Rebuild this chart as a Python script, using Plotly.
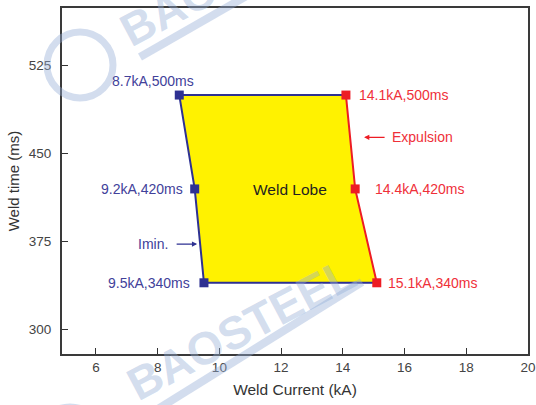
import numpy as np
import plotly.graph_objects as go

# Weld lobe boundary points (current in kA, weld time in ms)
imin_current = [8.7, 9.2, 9.5]
imin_time = [500, 420, 340]
expulsion_current = [14.1, 14.4, 15.1]
expulsion_time = [500, 420, 340]
imin_labels = ["8.7kA,500ms", "9.2kA,420ms", "9.5kA,340ms"]
expulsion_labels = ["14.1kA,500ms", "14.4kA,420ms", "15.1kA,340ms"]
x_ticks = [6, 8, 10, 12, 14, 16, 18, 20]
y_ticks = [300, 375, 450, 525]

BLUE = "#2e3192"
BLUE_TXT = "#41419a"
RED = "#ed1c24"
RED_TXT = "#ef3039"
YELLOW = "#fff200"
FONT = "Liberation Sans"

# plot area geometry in pixels (for the watermark decoration)
W, H = 536, 405
ML, MR, MT, MB = 62, 8, 8, 51
PW, PH = W - ML - MR, H - MT - MB


def px(xp, yp):
    return (xp - ML) / PW, (H - MB - yp) / PH


fig = go.Figure()

# lobe fill
fig.add_trace(go.Scatter(
    x=imin_current + expulsion_current[::-1] + [imin_current[0]],
    y=imin_time + expulsion_time[::-1] + [imin_time[0]],
    fill="toself", fillcolor=YELLOW, mode="lines",
    line=dict(width=0), hoverinfo="skip", showlegend=False))

# top, Imin side and bottom edges (blue)
fig.add_trace(go.Scatter(
    x=[expulsion_current[0]] + imin_current + [expulsion_current[-1]],
    y=[expulsion_time[0]] + imin_time + [expulsion_time[-1]],
    mode="lines", line=dict(color=BLUE, width=2), showlegend=False))

# expulsion side (red)
fig.add_trace(go.Scatter(
    x=expulsion_current, y=expulsion_time,
    mode="lines", line=dict(color=RED, width=2), showlegend=False))

fig.add_trace(go.Scatter(
    x=imin_current, y=imin_time, mode="markers",
    marker=dict(symbol="square", size=9, color=BLUE), showlegend=False))
fig.add_trace(go.Scatter(
    x=expulsion_current, y=expulsion_time, mode="markers",
    marker=dict(symbol="square", size=9, color=RED), showlegend=False))

ann = []

# watermark
WM = "rgba(150,175,215,0.42)"
for (cx, cy) in [(234, -25), (241, 329)]:
    xp, yp = px(cx, cy)
    ann.append(dict(xref="paper", yref="paper", x=xp, y=yp, text="<b>BAOSTEEL</b>",
                    showarrow=False, textangle=-28, xanchor="center", yanchor="middle",
                    font=dict(family=FONT, size=46, color=WM)))

shapes = []
for (cx, cy) in [(80, 65), (70, 440)]:
    r = 33
    x0, y0 = px(cx - r, cy + r)
    x1, y1 = px(cx + r, cy - r)
    shapes.append(dict(type="circle", xref="paper", yref="paper",
                       x0=x0, y0=y0, x1=x1, y1=y1,
                       line=dict(color=WM, width=7), layer="above"))
for (a, b) in [((140, 57), (250, -6)), ((100, 445), (362, 282))]:
    x0, y0 = px(*a)
    x1, y1 = px(*b)
    shapes.append(dict(type="line", xref="paper", yref="paper",
                       x0=x0, y0=y0, x1=x1, y1=y1,
                       line=dict(color=WM, width=8), layer="above"))

# point labels
lab_font_b = dict(family=FONT, size=14, color=BLUE_TXT)
lab_font_r = dict(family=FONT, size=14, color=RED_TXT)
blue_pos = [("center", -26, 14), ("right", -10, 0), ("right", -12, 0)]
red_pos = [("left", 11, 0), ("left", 18, 0), ("left", 9, 0)]
for xv, yv, t, (anc, dx, dy) in zip(imin_current, imin_time, imin_labels, blue_pos):
    ann.append(dict(x=xv, y=yv, text=t, showarrow=False, xanchor=anc, yanchor="middle",
                    xshift=dx, yshift=dy, font=lab_font_b))
for xv, yv, t, (anc, dx, dy) in zip(expulsion_current, expulsion_time, expulsion_labels, red_pos):
    ann.append(dict(x=xv, y=yv, text=t, showarrow=False, xanchor=anc, yanchor="middle",
                    xshift=dx, yshift=dy, font=lab_font_r))

# Imin arrow
t_imin = 373
x_imin = float(np.interp(t_imin, imin_time[::-1], imin_current[::-1]))
ann.append(dict(x=x_imin, y=t_imin, text="", showarrow=True, ax=-22, ay=0,
                xshift=-3, arrowhead=2, arrowsize=0.8, arrowwidth=1.3, arrowcolor=BLUE))
ann.append(dict(x=x_imin, y=t_imin, text="Imin.", showarrow=False, xanchor="right",
                yanchor="middle", xshift=-30, font=lab_font_b))

# Expulsion arrow
t_exp = 464
x_exp = float(np.interp(t_exp, expulsion_time[::-1], expulsion_current[::-1]))
ann.append(dict(x=x_exp, y=t_exp, text="", showarrow=True, ax=22, ay=0,
                xshift=14, arrowhead=2, arrowsize=0.8, arrowwidth=1.3, arrowcolor=RED))
ann.append(dict(x=x_exp, y=t_exp, text="Expulsion", showarrow=False, xanchor="left",
                yanchor="middle", xshift=40, font=lab_font_r))

ann.append(dict(x=12.3, y=419.6, text="Weld Lobe", showarrow=False,
                font=dict(family=FONT, size=15.5, color="#231f20")))

axis_common = dict(showgrid=False, zeroline=False, showline=True, mirror=True,
                   linecolor="#3a3a3a", linewidth=2, ticks="inside", ticklen=6,
                   tickwidth=1.3, tickcolor="#333", automargin=False,
                   tickfont=dict(family=FONT, size=13.5, color="#444"))

fig.update_layout(
    width=W, height=H,
    margin=dict(l=ML, r=MR, t=MT, b=MB, autoexpand=False),
    paper_bgcolor="white", plot_bgcolor="white",
    xaxis=dict(range=[4.9, 20], tickvals=x_ticks,
               title=dict(text="Weld Current (kA)", standoff=10,
                          font=dict(family=FONT, size=15.5, color="#333")),
               **axis_common),
    yaxis=dict(range=[279.3, 574.2], tickvals=y_ticks, ticklabelstandoff=6,
               title=dict(text="Weld time (ms)", standoff=6,
                          font=dict(family=FONT, size=15, color="#333")),
               **axis_common),
    annotations=ann, shapes=shapes,
)

fig.write_html("out.html")
